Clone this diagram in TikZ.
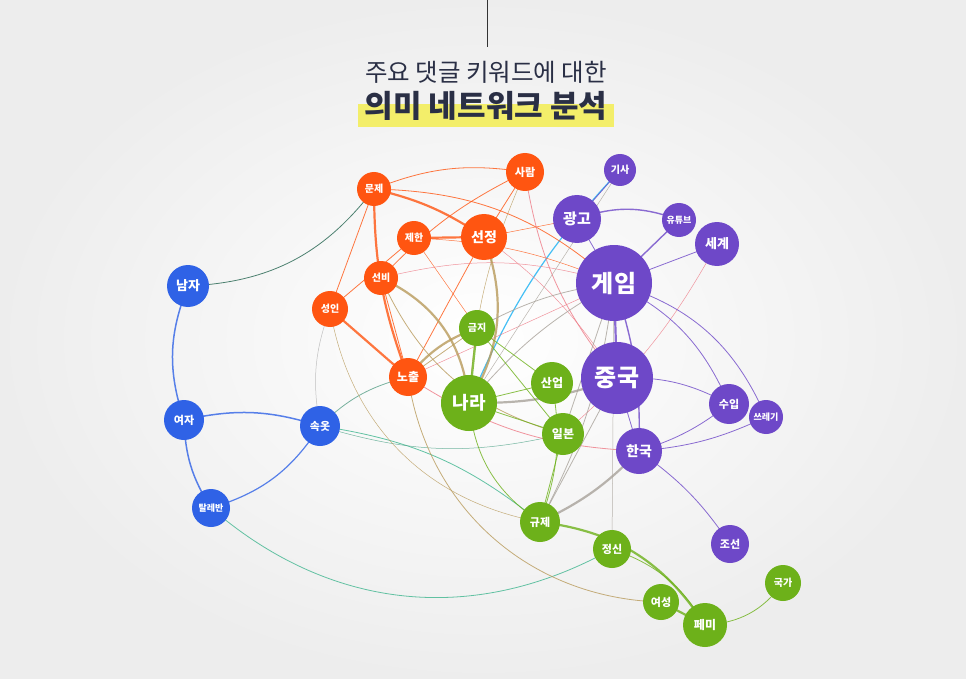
\documentclass[tikz,border=0pt]{standalone}
\usepackage{fontspec}
\setmainfont{Noto Sans CJK KR}
\begin{document}
\begin{tikzpicture}[x=1pt,y=-1pt,
 nd/.style={circle,fill=#1,text=white,inner sep=0pt,font=\bfseries},
 e/.style={line width=0.8pt,opacity=0.8},
 E/.style={line width=2.2pt,opacity=0.8}]
\definecolor{cO}{HTML}{FF5511}
\definecolor{cP}{HTML}{6E48C8}
\definecolor{cG}{HTML}{6DB11A}
\definecolor{cB}{HTML}{2F62E6}
\definecolor{cT}{HTML}{B89A5A}
\definecolor{cK}{HTML}{A8A29A}
\definecolor{cR}{HTML}{EE7A86}
\definecolor{cS}{HTML}{3DB58E}
\definecolor{cY}{HTML}{F3EE6A}
\definecolor{cN}{HTML}{2A2F45}
\useasboundingbox (0,0) rectangle (966,679);
\fill[inner color=white,outer color=black!7] (0,0) rectangle (966,679);
\draw[black!80,line width=0.8pt] (487,0) -- (487,47);
\fill[cY] (358,104) rectangle (614,127);
\node[font=\fontsize{24.5}{26}\selectfont,text=cN] (t1) at (486,72) {주요 댓글 키워드에 대한};
\node[font=\fontsize{31}{33}\selectfont\bfseries,text=cN] (t2) at (486,106) {의미 네트워크 분석};
\coordinate (mj) at (374,189); \coordinate (sr) at (525,172); \coordinate (jh) at (414,238);
\coordinate (sj) at (484,237); \coordinate (sb) at (381,278); \coordinate (si) at (330,309);
\coordinate (nc) at (408,377);
\coordinate (gs) at (620,170); \coordinate (gg) at (577,219); \coordinate (yt) at (679,220);
\coordinate (sg) at (717,244); \coordinate (gm) at (614,283); \coordinate (jg) at (617,378);
\coordinate (su) at (729,404); \coordinate (sl) at (766,417); \coordinate (hk) at (639,451);
\coordinate (js) at (730,544);
\coordinate (gj) at (477,328); \coordinate (nr) at (469,403); \coordinate (su2) at (552,383);
\coordinate (ib) at (563,434); \coordinate (gj2) at (540,522); \coordinate (jsn) at (612,549);
\coordinate (ys) at (661,602); \coordinate (pm) at (705,625); \coordinate (gk) at (783,583);
\coordinate (nj) at (188,286); \coordinate (yj) at (184,420); \coordinate (so) at (320,426);
\coordinate (tr) at (211,508);
% edges
\draw[e,black!45!cS] (nj) to[bend right=25] (mj);
\draw[e,cB,line width=1.5pt] (nj) to[bend right=20] (yj);
\draw[e,cB,line width=1.5pt] (yj) to[bend right=15] (tr);
\draw[e,cB,line width=1.5pt] (yj) to[bend left=15] (so);
\draw[e,cB,line width=1.2pt] (so) to[bend left=20] (tr);
\draw[e,cS!60!gray] (so) to[bend left=15] (nc);
\draw[e,cS] (so) to[bend left=15] (gj2);
\draw[e,cS!70!gray,line width=0.5pt] (so) to[bend right=15] (ib);
\draw[e,cS] (tr) to[bend right=35] (jsn);
\draw[e,black!30,line width=0.5pt] (si) to[bend right=15] (so);
\draw[e,cB!50!cyan,line width=1.2pt] (gs) to[bend right=10] (nr);
\draw[e,cO] (mj) to[bend left=15] (sr);
\draw[E,cO] (mj) to[bend left=10] (sj);
\draw[E,cO] (mj) to[bend right=10] (nc);
\draw[e,cO] (mj) -- (si);
\draw[E,cO] (jh) -- (sj);
\draw[e,cO] (jh) -- (si);
\draw[E,cO] (si) -- (nc);
\draw[e,cO] (sb) -- (nc);
\draw[e,cO] (sr) -- (sj);
\draw[e,cO] (sj) -- (nc);
\draw[e,cO] (sr) to[bend right=10] (sb);
\draw[e,cO] (mj) to[bend left=20] (gm);
\draw[e,cO,line width=0.5pt] (jh) to[bend left=10] (gm);
\draw[e,cO,line width=0.5pt] (sj) -- (gg);
\draw[e,cO,line width=0.5pt] (jh) -- (gj);
\draw[e,cR] (sr) to[bend right=15] (jg);
\draw[e,cR] (nc) to[bend right=15] (hk);
\draw[e,cR,line width=0.5pt] (sj) to[bend left=10] (jg);
\draw[e,cR,line width=0.5pt] (sb) to[bend left=15] (gm);
\draw[e,cR,line width=0.5pt] (gm) -- (nc);
\draw[e,cR,line width=0.5pt] (sg) to[bend left=10] (ib);
\draw[E,cT] (sb) to[bend left=30] (nr);
\draw[E,cT] (sj) to[bend left=25] (nr);
\draw[e,cT] (nc) to[bend right=40] (ys);
\draw[e,cT] (sb) to[bend right=25] (ib);
\draw[e,cT] (nc) -- (gj);
\draw[E,cT] (nc) to[bend left=15] (gj);
\draw[e,cT,line width=0.5pt] (sr) to[bend right=10] (nr);
\draw[e,cT,line width=0.5pt] (si) to[bend right=35] (gj2);
\draw[E,cP] (gm) -- (jg);
\draw[e,cP,line width=1.4pt] (gm) to[bend left=10] (hk);
\draw[e,cP] (gg) -- (gs);
\draw[e,cP,line width=1.4pt] (gg) to[bend left=20] (yt);
\draw[e,cP,line width=1.4pt] (gm) -- (yt);
\draw[e,cP] (gm) -- (sg);
\draw[e,cP] (gm) to[bend left=20] (su);
\draw[e,cP] (gm) to[bend left=25] (sl);
\draw[e,cP] (jg) to[bend left=15] (su);
\draw[e,cP] (hk) to[bend right=10] (su);
\draw[e,cP] (hk) to[bend right=10] (sl);
\draw[e,cP] (hk) to[bend left=10] (js);
\draw[e,cP] (jg) -- (hk);
\draw[e,cP] (gg) -- (gm);
\draw[E,cK] (nr) to[bend right=10] (jg);
\draw[e,cK] (nr) to[bend left=10] (gm);
\draw[e,cK] (gj2) to[bend right=10] (gm);
\draw[e,cK] (gj2) -- (jg);
\draw[E,cK] (gj2) to[bend right=10] (hk);
\draw[e,cK] (gj) to[bend left=10] (gm);
\draw[e,cK] (ib) -- (gm);
\draw[e,cK,line width=0.5pt] (jsn) -- (gm);
\draw[e,cK,line width=0.5pt] (nr) -- (gs);
\draw[E,cG] (gj) -- (nr);
\draw[e,cG] (nr) -- (su2);
\draw[e,cG] (nr) -- (ib);
\draw[e,cG] (gj) -- (ib);
\draw[e,cG] (gj) -- (su2);
\draw[e,cG] (nr) to[bend right=25] (gj2);
\draw[E,cG] (gj2) to[bend left=25] (pm);
\draw[e,cG] (jsn) to[bend left=20] (pm);
\draw[E,cG] (ys) -- (pm);
\draw[e,cG] (pm) to[bend right=25] (gk);
\draw[e,cG] (su2) to[bend left=15] (gj2);
\draw[e,cG] (ib) -- (gj2);
\foreach \p/\t/\c/\s/\f in {
 mj/문제/cO/34/10, sr/사람/cO/38/11, jh/제한/cO/34/10, sj/선정/cO/46/14, sb/선비/cO/34/10, si/성인/cO/36/10, nc/노출/cO/38/12,
 gs/기사/cP/32/10, gg/광고/cP/48/15, yt/유튜브/cP/34/9, sg/세계/cP/44/13, gm/게임/cP/76/24, jg/중국/cP/72/24,
 su/수입/cP/40/11, sl/쓰레기/cP/34/9, hk/한국/cP/46/14, js/조선/cP/38/11,
 gj/금지/cG/36/10, nr/나라/cG/56/18, su2/산업/cG/42/12, ib/일본/cG/42/12, gj2/규제/cG/40/11, jsn/정신/cG/38/11,
 ys/여성/cG/36/11, pm/페미/cG/44/12, gk/국가/cG/36/10,
 nj/남자/cB/42/13, yj/여자/cB/40/11, so/속옷/cB/40/11, tr/탈레반/cB/38/9}
 {\node[nd=\c,minimum size=\s] (n\p) at (\p) {};
  \node[text=white,font=\bfseries\fontsize{\f}{\f}\selectfont] (l\p) at (\p) {\t};}
\end{tikzpicture}
\end{document}
